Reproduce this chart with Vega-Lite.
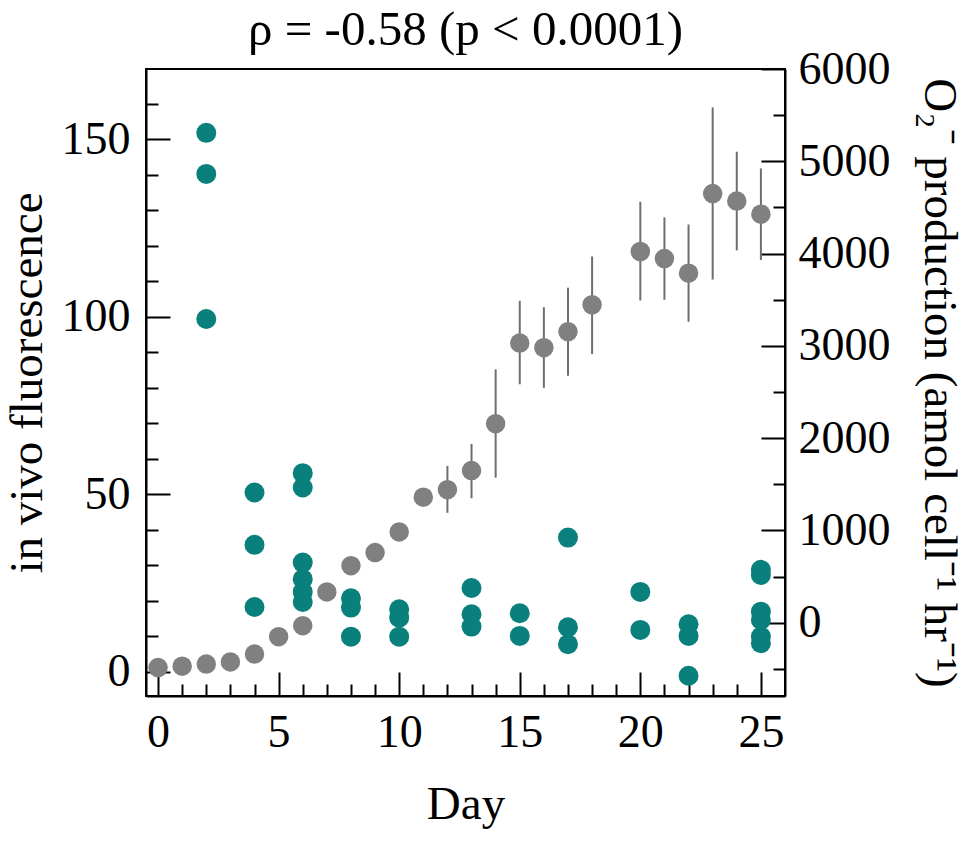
{
  "$schema": "https://vega.github.io/schema/vega-lite/v6.json",
  "width": 639,
  "height": 627,
  "autosize": "none",
  "padding": {"left": 146, "top": 69, "right": 189, "bottom": 152},
  "config": {
    "font": "Liberation Serif",
    "view": {"stroke": "black", "strokeWidth": 2},
    "axis": {
      "grid": false,
      "domainColor": "black",
      "domainWidth": 2,
      "tickColor": "black",
      "tickWidth": 2,
      "labelColor": "black",
      "labelFontSize": 46,
      "titleColor": "black",
      "titleFontSize": 47,
      "titleFontWeight": "normal"
    }
  },
  "title": {
    "text": "ρ = -0.58 (p < 0.0001)",
    "fontSize": 49,
    "fontWeight": "normal",
    "color": "black",
    "baseline": "alphabetic",
    "frame": "group",
    "offset": -48
  },
  "datasets": {
    "fluor": [
      {"day": 0, "value": 1.2},
      {"day": 1, "value": 1.6},
      {"day": 2, "value": 2.2},
      {"day": 3, "value": 2.8},
      {"day": 4, "value": 5.0},
      {"day": 5, "value": 9.9},
      {"day": 6, "value": 13.0},
      {"day": 7, "value": 22.5},
      {"day": 8, "value": 29.9},
      {"day": 9, "value": 33.6},
      {"day": 10, "value": 39.4},
      {"day": 11, "value": 49.2},
      {"day": 12, "value": 51.3, "lo": 44.8, "hi": 58.0},
      {"day": 13, "value": 56.7, "lo": 48.9, "hi": 64.2},
      {"day": 14, "value": 69.9, "lo": 54.7, "hi": 85.2},
      {"day": 15, "value": 92.6, "lo": 81.0, "hi": 104.5},
      {"day": 16, "value": 91.3, "lo": 80.0, "hi": 102.7},
      {"day": 17, "value": 95.8, "lo": 83.4, "hi": 108.2},
      {"day": 18, "value": 103.4, "lo": 89.5, "hi": 117.0},
      {"day": 20, "value": 118.4, "lo": 104.6, "hi": 132.4},
      {"day": 21, "value": 116.4, "lo": 104.8, "hi": 128.0},
      {"day": 22, "value": 112.3, "lo": 98.6, "hi": 126.0},
      {"day": 23, "value": 134.7, "lo": 110.5, "hi": 159.0},
      {"day": 24, "value": 132.6, "lo": 118.7, "hi": 146.5},
      {"day": 25, "value": 128.9, "lo": 116.0, "hi": 141.8}
    ],
    "o2": [
      {"day": 2, "value": 5308}, {"day": 2, "value": 4863}, {"day": 2, "value": 3291},
      {"day": 4, "value": 1410}, {"day": 4, "value": 843}, {"day": 4, "value": 170},
      {"day": 6, "value": 1620}, {"day": 6, "value": 1464}, {"day": 6, "value": 651},
      {"day": 6, "value": 471}, {"day": 6, "value": 333}, {"day": 6, "value": 224},
      {"day": 8, "value": 264}, {"day": 8, "value": 163}, {"day": 8, "value": -152},
      {"day": 10, "value": 145}, {"day": 10, "value": 54}, {"day": 10, "value": -152},
      {"day": 13, "value": 376}, {"day": 13, "value": 91}, {"day": 13, "value": -43},
      {"day": 15, "value": 102}, {"day": 15, "value": -144},
      {"day": 17, "value": 922}, {"day": 17, "value": -50}, {"day": 17, "value": -234},
      {"day": 20, "value": 333}, {"day": 20, "value": -79},
      {"day": 22, "value": -17}, {"day": 22, "value": -144}, {"day": 22, "value": -575},
      {"day": 25, "value": 572}, {"day": 25, "value": 517}, {"day": 25, "value": 119},
      {"day": 25, "value": 29}, {"day": 25, "value": -152}, {"day": 25, "value": -223}
    ]
  },
  "encoding": {
    "x": {
      "field": "day",
      "type": "quantitative",
      "scale": {"domain": [-0.5, 26.0], "nice": false, "zero": false},
      "axis": {
        "title": "Day",
        "values": [0, 1, 2, 3, 4, 5, 6, 7, 8, 9, 10, 11, 12, 13, 14, 15, 16, 17, 18, 19, 20, 21, 22, 23, 24, 25],
        "tickSize": {"condition": {"test": "datum.value % 5 === 0", "value": -24}, "value": -12},
        "labelExpr": "datum.value % 5 === 0 ? datum.label : ''",
        "labelPadding": 38,
        "labelFlush": false,
        "labelOverlap": false,
        "titlePadding": 14
      }
    }
  },
  "layer": [
    {
      "data": {"name": "o2"},
      "mark": {"type": "circle", "size": 400, "color": "#0a807d", "opacity": 1},
      "encoding": {
        "y": {
          "field": "value",
          "type": "quantitative",
          "scale": {"domain": [-795, 6000], "nice": false, "zero": false},
          "axis": {
            "orient": "right",
            "title": "O₂⁻ production (amol cell⁻¹ hr⁻¹)",
            "values": [-500, 0, 500, 1000, 1500, 2000, 2500, 3000, 3500, 4000, 4500, 5000, 5500, 6000],
            "tickSize": {"condition": {"test": "datum.value % 1000 === 0", "value": -24}, "value": -12},
            "labelExpr": "datum.value % 1000 === 0 && datum.value >= 0 ? datum.value : ''",
            "labelPadding": 37,
            "labelFlush": false,
            "labelOverlap": false,
            "titlePadding": 24
          }
        }
      }
    },
    {
      "data": {"name": "fluor"},
      "encoding": {
        "y": {
          "type": "quantitative",
          "scale": {"domain": [-6.8, 169.8], "nice": false, "zero": false},
          "axis": {
            "orient": "left",
            "title": "in vivo fluorescence",
            "values": [0, 10, 20, 30, 40, 50, 60, 70, 80, 90, 100, 110, 120, 130, 140, 150, 160],
            "tickSize": {"condition": {"test": "datum.value % 50 === 0", "value": -24}, "value": -12},
            "labelExpr": "datum.value % 50 === 0 ? datum.label : ''",
            "labelPadding": 40,
            "labelFlush": false,
            "labelOverlap": false,
            "titlePadding": 10
          }
        }
      },
      "layer": [
        {
          "mark": {"type": "rule", "color": "#6e6e6e", "strokeWidth": 2},
          "encoding": {
            "y": {"field": "lo"},
            "y2": {"field": "hi"}
          }
        },
        {
          "mark": {"type": "circle", "size": 380, "color": "#808080", "opacity": 1},
          "encoding": {
            "y": {"field": "value"}
          }
        }
      ]
    }
  ],
  "resolve": {"scale": {"y": "independent"}}
}
